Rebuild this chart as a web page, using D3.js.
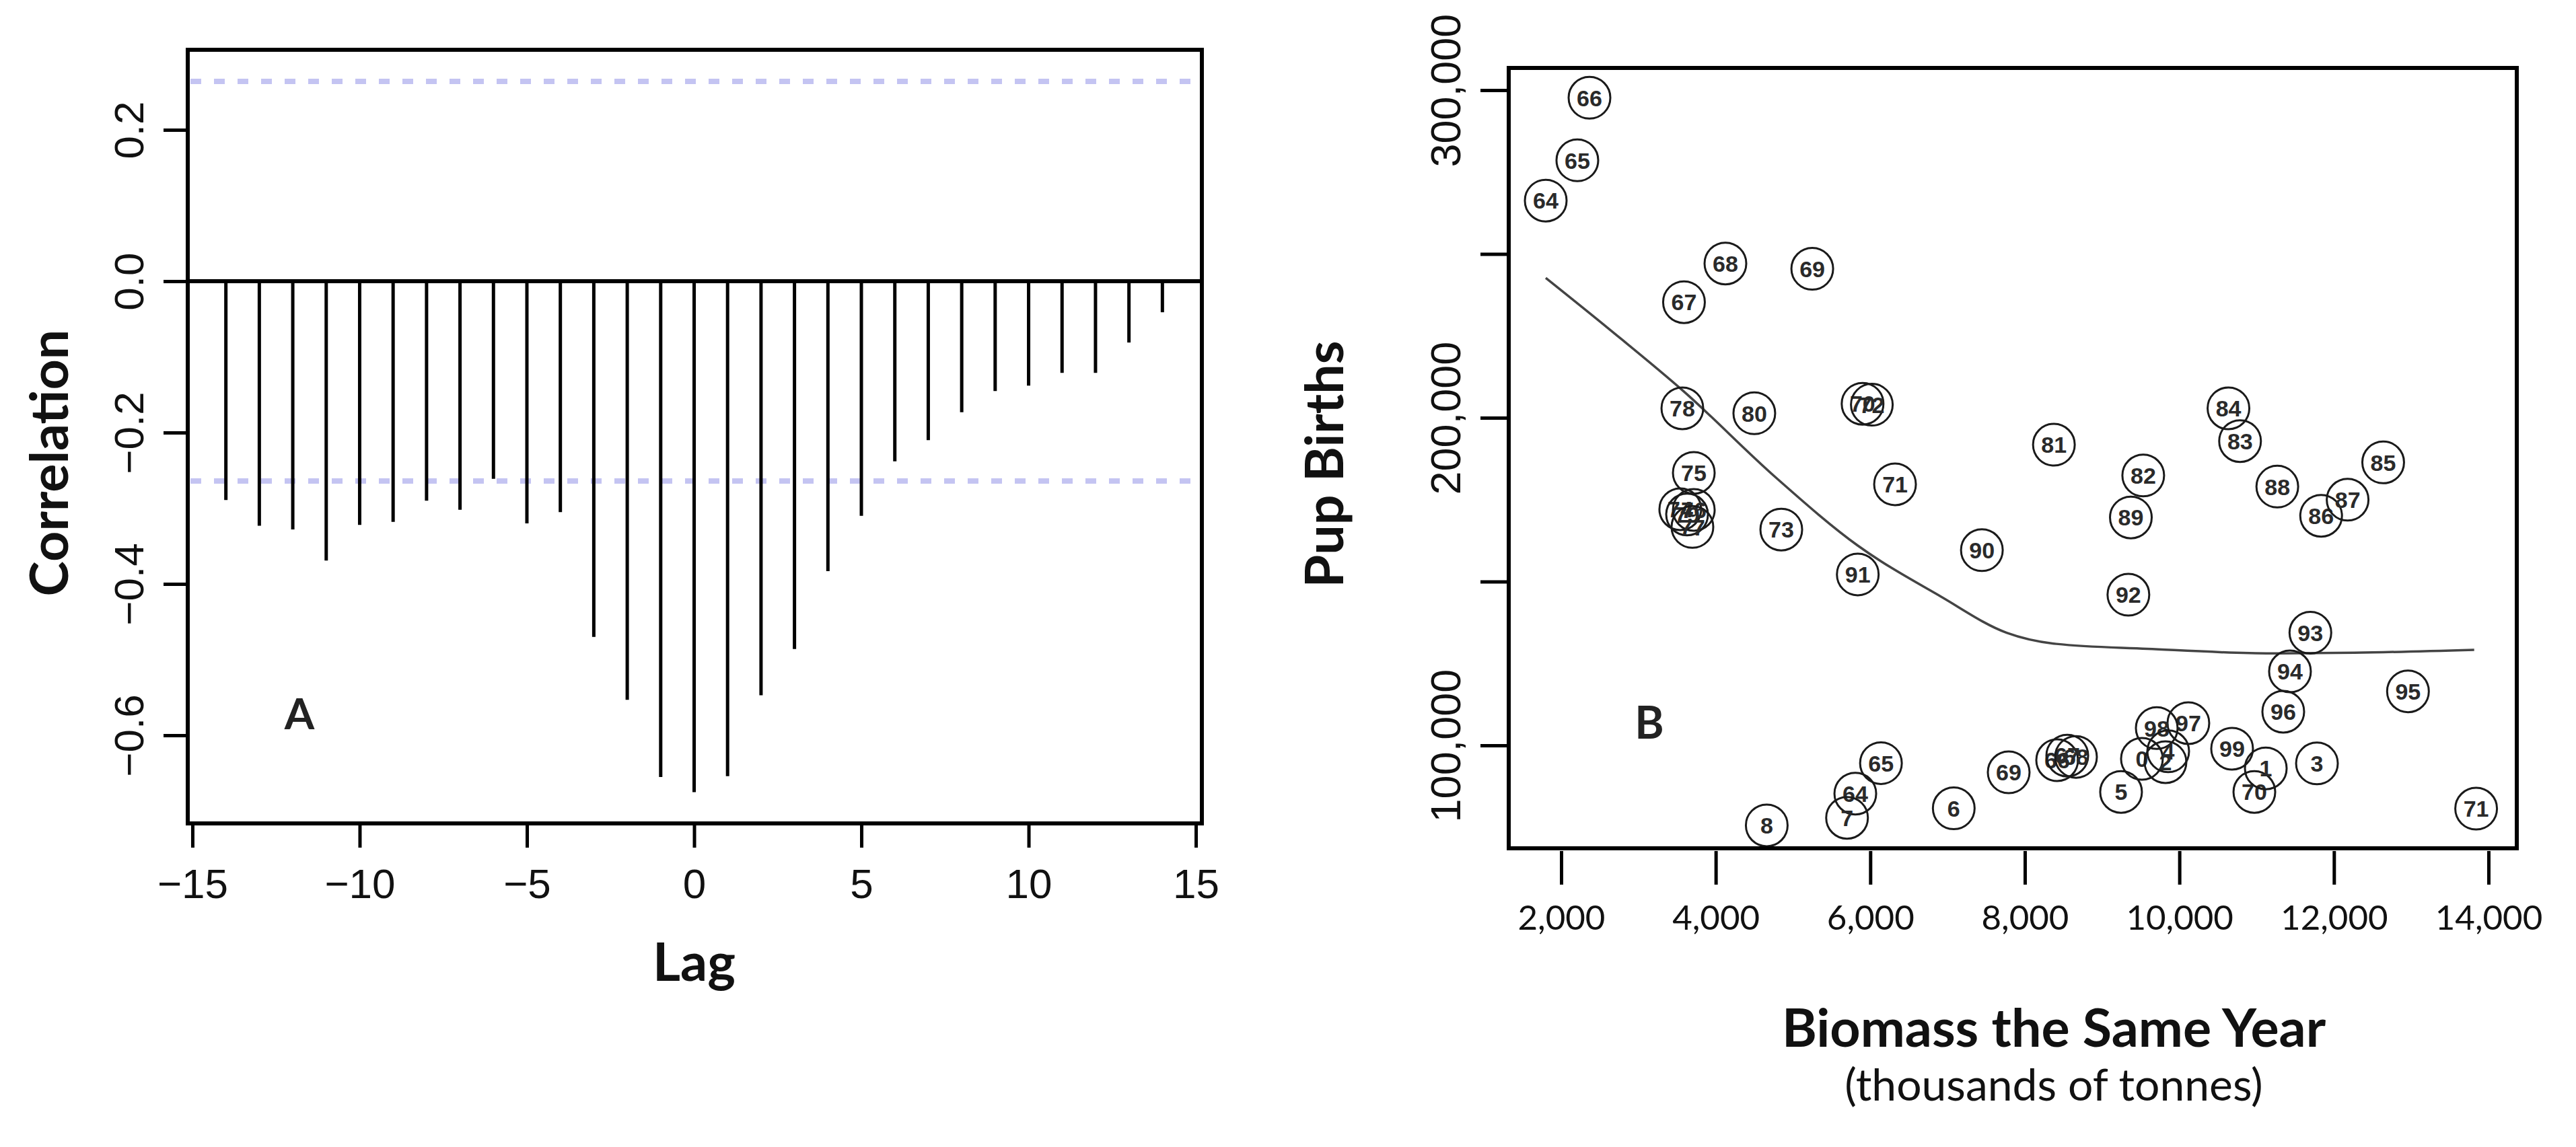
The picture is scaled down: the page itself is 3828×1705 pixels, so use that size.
<!DOCTYPE html>
<html>
<head>
<meta charset="utf-8">
<script src="https://cdn.jsdelivr.net/npm/d3@7"></script>
<style>
  body { margin: 0; background: #fff; }
  svg { display: block; }
</style>
</head>
<body>
<div id="drawing"></div>
<script>
// ---- panel A : cross-correlation ----
var lags = [-14, -13, -12, -11, -10, -9, -8, -7, -6, -5, -4, -3, -2, -1, 0,
            1, 2, 3, 4, 5, 6, 7, 8, 9, 10, 11, 12, 13, 14];
var acfValues = [-0.289, -0.323, -0.328, -0.369, -0.322, -0.318, -0.290, -0.302, -0.261,
                 -0.320, -0.305, -0.470, -0.553, -0.655, -0.675, -0.654, -0.547, -0.486,
                 -0.383, -0.310, -0.238, -0.210, -0.173, -0.145, -0.138, -0.121, -0.121,
                 -0.081, -0.041];
var confLimit = 0.264;
var lagTicks = [-15, -10, -5, 0, 5, 10, 15];
var corrTicks = [-0.6, -0.4, -0.2, 0.0, 0.2];

// ---- panel B : pup births vs biomass ----
var yearLabels = ["64", "65", "66", "67", "68", "69", "70", "72", "71", "73",
                  "74", "79", "76", "77", "75", "78", "80", "81", "82", "83",
                  "84", "85", "86", "87", "88", "89", "90", "91", "92", "93",
                  "94", "95", "96", "97", "98", "99",
                  "64", "65", "66", "67", "68", "69", "70", "71",
                  "0", "1", "2", "4", "3", "5", "6", "7", "8"];
var biomass = [1800, 2209, 2366, 3589, 4125, 5249, 5900, 6020, 6320, 4848,
               3541, 3629, 3716, 3698, 3716, 3568, 4499, 8376, 9532, 10785,
               10635, 12637, 11834, 12177, 11267, 9372, 7444, 5838, 9340, 11695,
               11431, 12958, 11344, 10116, 9707, 10682,
               5806, 6138, 8418, 8549, 8662, 7791, 10970, 13840,
               9515, 11118, 9820, 9855, 11780, 9245, 7080, 5699, 4660];
var pupBirths = [266300, 278600, 297700, 235300, 247100, 245500, 204300, 204000, 179700, 165900,
                 172100, 170500, 171900, 166700, 183200, 202900, 201400, 191800, 182400, 192900,
                 202900, 186400, 170100, 175000, 179000, 169600, 159600, 152200, 146000, 134400,
                 122600, 116500, 110300, 106800, 105300, 99000,
                 85300, 94600, 95500, 96900, 96500, 91800, 85800, 80700,
                 95900, 93000, 94900, 98200, 94500, 85800, 80800, 77900, 75600];
// smoothed fit
var fitX = [1800, 2625, 3589, 4767, 5838, 6909, 7765, 8408, 9586, 11192, 12263, 13815];
var fitY = [242700, 227000, 208000, 182000, 161000, 145500, 134400, 131000, 129500, 128100, 128300, 129200];
var biomassTicks = [2000, 4000, 6000, 8000, 10000, 12000, 14000];
var birthTicks = [100000, 150000, 200000, 250000, 300000];
var birthLabelled = [100000, 200000, 300000];

var width = 3828;
var height = 1705;
var boxA = {left: 279, right: 1786, top: 74, bottom: 1224};
var boxB = {left: 2242, right: 3740, top: 101, bottom: 1261};

var titleFont = "Lato, 'Open Sans', sans-serif";
var tickFont = "'Liberation Sans Narrow', 'Liberation Sans', Arial, sans-serif";

var svg = d3.select("#drawing").append("svg")
  .attr("width", width)
  .attr("height", height);

svg.append("rect").attr("width", width).attr("height", height).attr("fill", "#fff");

// ================= panel A =================
var xA = d3.scaleLinear().domain([-15.14, 15.18]).range([boxA.left, boxA.right]);
var yA = d3.scaleLinear().domain([-0.7164, 0.3058]).range([boxA.bottom, boxA.top]);

var gA = svg.append("g").attr("class", "panelA");

// confidence bounds
gA.selectAll(".conf")
  .data([confLimit, -confLimit])
  .enter().append("line")
  .attr("class", "conf")
  .attr("x1", boxA.left + 4)
  .attr("x2", boxA.right - 4)
  .attr("y1", d => yA(d))
  .attr("y2", d => yA(d))
  .attr("stroke", "#c4c4f2")
  .attr("stroke-width", 8)
  .attr("stroke-dasharray", "16 19");

// zero line
gA.append("line")
  .attr("x1", boxA.left).attr("x2", boxA.right)
  .attr("y1", yA(0)).attr("y2", yA(0))
  .attr("stroke", "#000").attr("stroke-width", 6);

// spikes
gA.selectAll(".spike")
  .data(lags)
  .enter().append("line")
  .attr("class", "spike")
  .attr("x1", d => xA(d)).attr("x2", d => xA(d))
  .attr("y1", yA(0))
  .attr("y2", (d, i) => yA(acfValues[i]))
  .attr("stroke", "#000")
  .attr("stroke-width", 5);

gA.append("rect")
  .attr("x", boxA.left).attr("y", boxA.top)
  .attr("width", boxA.right - boxA.left).attr("height", boxA.bottom - boxA.top)
  .attr("fill", "none").attr("stroke", "#000").attr("stroke-width", 6);

var xAxisA = gA.append("g")
  .attr("transform", `translate(0,${boxA.bottom})`)
  .call(d3.axisBottom(xA).tickValues(lagTicks).tickSize(36).tickSizeOuter(0).tickFormat(d3.format("d")));
xAxisA.select(".domain").remove();
xAxisA.selectAll("line").attr("stroke", "#000").attr("stroke-width", 5);
xAxisA.selectAll("text")
  .attr("y", 111).attr("dy", 0)
  .style("font-family", tickFont).style("font-size", "62px").attr("fill", "#111");

var yAxisA = gA.append("g")
  .attr("transform", `translate(${boxA.left},0)`)
  .call(d3.axisLeft(yA).tickValues(corrTicks).tickSize(36).tickSizeOuter(0).tickFormat(d3.format(".1f")));
yAxisA.select(".domain").remove();
yAxisA.selectAll("line").attr("stroke", "#000").attr("stroke-width", 5);
yAxisA.selectAll("text")
  .attr("transform", "rotate(-90)")
  .attr("x", 0).attr("y", -66).attr("dy", 0)
  .attr("text-anchor", "middle")
  .style("font-family", tickFont).style("font-size", "62px").attr("fill", "#111");

gA.append("text")
  .attr("x", xA(-11.8)).attr("y", 1084)
  .attr("text-anchor", "middle")
  .style("font-family", titleFont).style("font-size", "64px").style("font-weight", 700)
  .attr("fill", "#222")
  .text("A");

gA.append("text")
  .attr("transform", "translate(101,688) rotate(-90)")
  .attr("text-anchor", "middle")
  .style("font-family", titleFont).style("font-size", "79px").style("font-weight", 700)
  .attr("fill", "#111")
  .text("Correlation");

gA.append("text")
  .attr("x", xA(0)).attr("y", 1458)
  .attr("text-anchor", "middle")
  .style("font-family", titleFont).style("font-size", "79px").style("font-weight", 700)
  .attr("fill", "#111")
  .text("Lag");

// ================= panel B =================
var xB = d3.scaleLinear().domain([1321, 14366]).range([boxB.left, boxB.right]);
var yB = d3.scaleLinear().domain([68600, 306800]).range([boxB.bottom, boxB.top]);

var gB = svg.append("g").attr("class", "panelB");

var fitLine = d3.line()
  .x((d, i) => xB(fitX[i]))
  .y((d, i) => yB(fitY[i]))
  .curve(d3.curveMonotoneX);

gB.append("path")
  .attr("d", fitLine(fitX))
  .attr("fill", "none")
  .attr("stroke", "#444")
  .attr("stroke-width", 3.5);

var pts = gB.selectAll(".pt")
  .data(yearLabels)
  .enter().append("g")
  .attr("class", "pt")
  .attr("transform", (d, i) => `translate(${xB(biomass[i])},${yB(pupBirths[i])})`);

pts.append("circle")
  .attr("r", 31)
  .attr("fill", "none")
  .attr("stroke", "#1a1a1a")
  .attr("stroke-width", 3);

pts.append("text")
  .attr("text-anchor", "middle")
  .attr("dy", "0.36em")
  .style("font-family", tickFont).style("font-size", "34px").style("font-weight", 700)
  .attr("fill", "#2a2a2a")
  .text(d => d);

gB.append("rect")
  .attr("x", boxB.left).attr("y", boxB.top)
  .attr("width", boxB.right - boxB.left).attr("height", boxB.bottom - boxB.top)
  .attr("fill", "none").attr("stroke", "#000").attr("stroke-width", 6);

var xAxisB = gB.append("g")
  .attr("transform", `translate(0,${boxB.bottom + 4})`)
  .call(d3.axisBottom(xB).tickValues(biomassTicks).tickSize(50).tickSizeOuter(0).tickFormat(d3.format(",")));
xAxisB.select(".domain").remove();
xAxisB.selectAll("line").attr("stroke", "#000").attr("stroke-width", 5);
xAxisB.selectAll("text")
  .attr("y", 117).attr("dy", 0)
  .style("font-family", titleFont).style("font-size", "51px").attr("fill", "#111");

var yAxisB = gB.append("g")
  .attr("transform", `translate(${boxB.left},0)`)
  .call(d3.axisLeft(yB).tickValues(birthTicks).tickSize(42).tickSizeOuter(0)
    .tickFormat(d => birthLabelled.indexOf(d) >= 0 ? d3.format(",")(d) : ""));
yAxisB.select(".domain").remove();
yAxisB.selectAll("line").attr("stroke", "#000").attr("stroke-width", 5);
yAxisB.selectAll("text")
  .attr("transform", "rotate(-90)")
  .attr("x", 0).attr("y", -72).attr("dy", 0)
  .attr("text-anchor", "middle")
  .style("font-family", tickFont).style("font-size", "63px").attr("fill", "#111");

gB.append("text")
  .attr("x", 2451).attr("y", 1098)
  .attr("text-anchor", "middle")
  .style("font-family", titleFont).style("font-size", "66px").style("font-weight", 700)
  .attr("fill", "#222")
  .text("B");

gB.append("text")
  .attr("transform", "translate(1996,690) rotate(-90)")
  .attr("text-anchor", "middle")
  .style("font-family", titleFont).style("font-size", "79px").style("font-weight", 700)
  .attr("fill", "#111")
  .text("Pup Births");

gB.append("text")
  .attr("x", 3052).attr("y", 1556)
  .attr("text-anchor", "middle")
  .style("font-family", titleFont).style("font-size", "79px").style("font-weight", 700)
  .attr("fill", "#111")
  .text("Biomass the Same Year");

gB.append("text")
  .attr("x", 3052).attr("y", 1636)
  .attr("text-anchor", "middle")
  .style("font-family", titleFont).style("font-size", "66px")
  .attr("fill", "#111")
  .text("(thousands of tonnes)");
</script>
</body>
</html>
